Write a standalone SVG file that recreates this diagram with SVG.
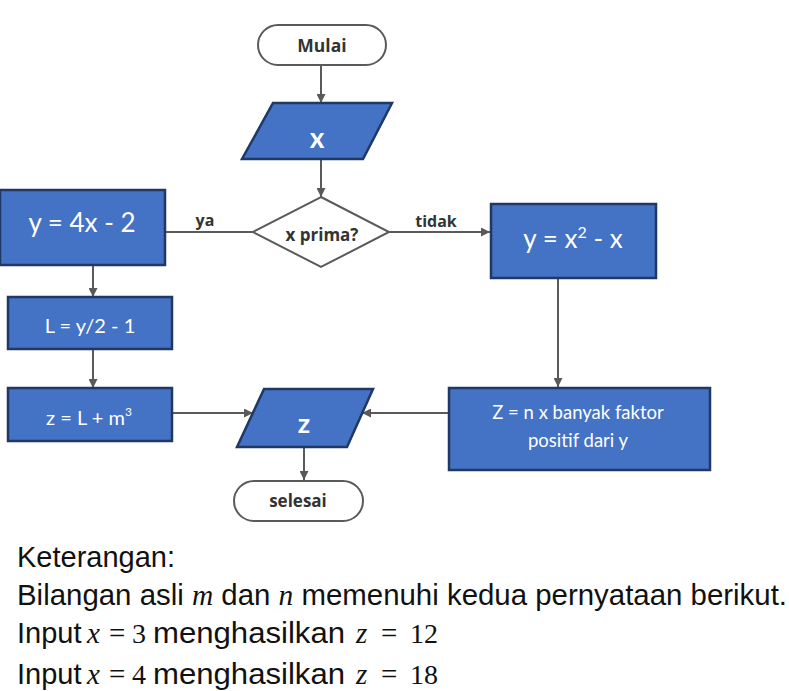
<svg xmlns="http://www.w3.org/2000/svg" width="789" height="691" viewBox="0 0 789 691">
<style>
.box{fill:#4472C4;stroke:#1F3864;stroke-width:2.5}
.term{fill:#fff;stroke:#5a5a5a;stroke-width:2}
.dec{fill:#fff;stroke:#5a5a5a;stroke-width:2}
.wt{font-family:Lato,"Open Sans","Liberation Sans",sans-serif;fill:#fff;text-anchor:middle}
.bt{font-family:"Open Sans","Liberation Sans",Arial,sans-serif;font-weight:bold;fill:#333;text-anchor:middle}
.con{fill:none;stroke:#5a5a5a;stroke-width:2}
.note{font-family:"Liberation Sans",Arial,sans-serif;font-size:29px;fill:#111}
.m{font-family:"Liberation Serif","Times New Roman",serif;font-size:29px}
.d{font-family:"Liberation Serif","Times New Roman",serif;font-size:28px}
.mi{font-family:"Liberation Serif","Times New Roman",serif;font-style:italic;font-size:29px}
</style>
<defs>
<marker id="ah" viewBox="0 0 10 10" refX="10" refY="5" markerWidth="9" markerHeight="9" markerUnits="userSpaceOnUse" orient="auto">
<path d="M0,0 L10,5 L0,10 z" fill="#5a5a5a"/>
</marker>
</defs>
<rect width="789" height="691" fill="#fff"/>

<g id="connectors">
<line class="con" x1="321" y1="65" x2="321" y2="103" marker-end="url(#ah)"/>
<line class="con" x1="321" y1="159" x2="321" y2="197" marker-end="url(#ah)"/>
<line class="con" x1="253" y1="232" x2="165" y2="232"/>
<line class="con" x1="389" y1="232" x2="490" y2="232" marker-end="url(#ah)"/>
<line class="con" x1="93" y1="265" x2="93" y2="297" marker-end="url(#ah)"/>
<line class="con" x1="93" y1="349" x2="93" y2="388" marker-end="url(#ah)"/>
<line class="con" x1="172" y1="413" x2="253" y2="413" marker-end="url(#ah)"/>
<line class="con" x1="558" y1="279" x2="558" y2="387" marker-end="url(#ah)"/>
<line class="con" x1="448" y1="413" x2="362" y2="413" marker-end="url(#ah)"/>
<line class="con" x1="304" y1="447" x2="304" y2="480" marker-end="url(#ah)"/>
<text class="bt" x="205" y="226" font-size="16">ya</text>
<text class="bt" x="436" y="227" font-size="16">tidak</text>
</g>

<g id="mulai">
<rect class="term" x="258" y="25" width="128" height="40" rx="20" ry="20"/>
<text class="bt" x="322" y="52" font-size="17.5">Mulai</text>
</g>

<g id="input-x">
<polygon class="box" points="273,103 392,103 363,159 242,159"/>
<text class="wt" x="317" y="148" font-size="28" font-weight="bold">x</text>
</g>

<g id="decision">
<polygon class="dec" points="321,197 389,232 321,267 253,232"/>
<text class="bt" x="322" y="241" font-size="17" font-weight="600">x prima?</text>
</g>

<g id="box-y1">
<rect class="box" x="0" y="190" width="165" height="75"/>
<text class="wt" x="82" y="232" font-size="26">y = 4x - 2</text>
</g>

<g id="box-y2">
<rect class="box" x="491" y="204" width="165" height="74"/>
<text class="wt" x="573" y="248" font-size="26">y = x<tspan font-size="16" dy="-10">2</tspan><tspan dy="10"> - x</tspan></text>
</g>

<g id="box-L">
<rect class="box" x="8" y="297" width="164" height="52"/>
<text class="wt" x="90" y="333" font-size="20">L = y/2 - 1</text>
</g>

<g id="box-z">
<rect class="box" x="8" y="388" width="164" height="53"/>
<text class="wt" x="89" y="425" font-size="20">z = L + m<tspan font-size="12" dy="-9">3</tspan></text>
</g>

<g id="box-Z">
<rect class="box" x="449" y="388" width="261" height="82"/>
<text class="wt" x="578" y="419" font-size="18.5">Z = n x banyak faktor</text>
<text class="wt" x="578" y="447" font-size="18.5">positif dari y</text>
</g>

<g id="output-z">
<polygon class="box" points="264,389 373,389 347,447 237,447"/>
<text class="wt" x="304" y="433" font-size="27" font-weight="bold">z</text>
</g>

<g id="selesai">
<rect class="term" x="234" y="481" width="129" height="40" rx="20" ry="20"/>
<text class="bt" x="298" y="507" font-size="17">selesai</text>
</g>

<g id="keterangan">
<text class="note" x="17" y="567">Keterangan:</text>
<text class="note" x="17" y="605" textLength="770" lengthAdjust="spacingAndGlyphs">Bilangan asli <tspan class="mi">m</tspan> dan <tspan class="mi">n</tspan> memenuhi kedua pernyataan berikut.</text>
<text class="note" y="643"><tspan x="17">Input</tspan><tspan class="mi" x="87">x</tspan><tspan class="m" x="109">=</tspan><tspan class="d" x="132">3</tspan><tspan x="153" textLength="192" lengthAdjust="spacingAndGlyphs">menghasilkan</tspan><tspan class="mi" x="356">z</tspan><tspan class="m" x="381">=</tspan><tspan class="d" x="410">12</tspan></text>
<text class="note" y="684"><tspan x="17">Input</tspan><tspan class="mi" x="87">x</tspan><tspan class="m" x="109">=</tspan><tspan class="d" x="132">4</tspan><tspan x="153" textLength="192" lengthAdjust="spacingAndGlyphs">menghasilkan</tspan><tspan class="mi" x="356">z</tspan><tspan class="m" x="381">=</tspan><tspan class="d" x="410">18</tspan></text>
</g>
</svg>
